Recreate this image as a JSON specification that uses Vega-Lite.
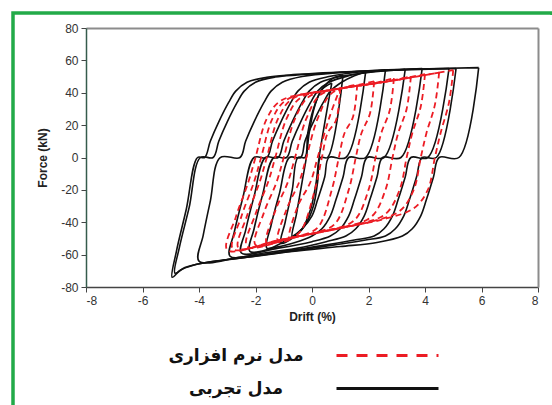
{
"$schema": "https://vega.github.io/schema/vega-lite/v6.json",
"width": 539, "height": 392,
"autosize": {"type": "none"},
"padding": {"left": 13, "top": 13, "right": 0, "bottom": 0},
"background": "white",
"config": {"view": {"stroke": "#22aa48", "strokeWidth": 3.5, "strokeDash": [541, 929, 392]}, "font": "Liberation Sans"},
"data": {"values": [
{"s":"e","c":1,"i":1,"d":0.7,"f":46},{"s":"e","c":1,"i":2,"d":0.25,"f":0},{"s":"e","c":1,"i":3,"d":0.15,"f":-15},{"s":"e","c":1,"i":4,"d":-0.05,"f":-32},{"s":"e","c":1,"i":5,"d":-0.35,"f":-44},{"s":"e","c":1,"i":6,"d":-0.7,"f":-49},{"s":"e","c":1,"i":7,"d":-0.55,"f":-35},{"s":"e","c":1,"i":8,"d":-0.35,"f":-15},{"s":"e","c":1,"i":9,"d":-0.2,"f":0},{"s":"e","c":1,"i":10,"d":-0.1,"f":15},{"s":"e","c":1,"i":11,"d":0.1,"f":32},{"s":"e","c":1,"i":12,"d":0.35,"f":42},{"s":"e","c":1,"i":13,"d":0.7,"f":46},
{"s":"e","c":2,"i":20,"d":1.1,"f":51},{"s":"e","c":2,"i":21,"d":0.55,"f":0},{"s":"e","c":2,"i":22,"d":0.3,"f":0},{"s":"e","c":2,"i":23,"d":0.2,"f":-15},{"s":"e","c":2,"i":24,"d":0.05,"f":-30},{"s":"e","c":2,"i":25,"d":-0.25,"f":-42},{"s":"e","c":2,"i":26,"d":-0.7,"f":-50},{"s":"e","c":2,"i":27,"d":-1.1,"f":-53},{"s":"e","c":2,"i":28,"d":-0.95,"f":-40},{"s":"e","c":2,"i":29,"d":-0.7,"f":-20},{"s":"e","c":2,"i":30,"d":-0.5,"f":0},{"s":"e","c":2,"i":31,"d":-0.25,"f":0},{"s":"e","c":2,"i":32,"d":-0.15,"f":15},{"s":"e","c":2,"i":33,"d":0.05,"f":30},{"s":"e","c":2,"i":34,"d":0.35,"f":42},{"s":"e","c":2,"i":35,"d":0.75,"f":49},{"s":"e","c":2,"i":36,"d":1.1,"f":51},
{"s":"e","c":3,"i":40,"d":1.9,"f":53},{"s":"e","c":3,"i":41,"d":1.2,"f":0},{"s":"e","c":3,"i":42,"d":0.6,"f":0},{"s":"e","c":3,"i":43,"d":0.45,"f":-12},{"s":"e","c":3,"i":44,"d":0.2,"f":-26},{"s":"e","c":3,"i":45,"d":0.0,"f":-36},{"s":"e","c":3,"i":46,"d":-0.35,"f":-44},{"s":"e","c":3,"i":47,"d":-0.8,"f":-50},{"s":"e","c":3,"i":48,"d":-1.6,"f":-56},{"s":"e","c":3,"i":49,"d":-1.45,"f":-42},{"s":"e","c":3,"i":50,"d":-1.15,"f":-22},{"s":"e","c":3,"i":51,"d":-0.8,"f":0},{"s":"e","c":3,"i":52,"d":-0.4,"f":0},{"s":"e","c":3,"i":53,"d":-0.25,"f":10},{"s":"e","c":3,"i":54,"d":0.05,"f":22},{"s":"e","c":3,"i":55,"d":0.4,"f":34},{"s":"e","c":3,"i":56,"d":0.65,"f":41},{"s":"e","c":3,"i":57,"d":1.05,"f":46.5},{"s":"e","c":3,"i":58,"d":1.5,"f":50.5},{"s":"e","c":3,"i":59,"d":1.9,"f":53},
{"s":"e","c":4,"i":60,"d":2.6,"f":54},{"s":"e","c":4,"i":61,"d":1.9,"f":0},{"s":"e","c":4,"i":62,"d":1.3,"f":0},{"s":"e","c":4,"i":63,"d":1.1,"f":-12},{"s":"e","c":4,"i":64,"d":0.85,"f":-26},{"s":"e","c":4,"i":65,"d":0.65,"f":-36},{"s":"e","c":4,"i":66,"d":0.35,"f":-44},{"s":"e","c":4,"i":67,"d":0.0,"f":-48.5},{"s":"e","c":4,"i":68,"d":-0.6,"f":-52.5},{"s":"e","c":4,"i":69,"d":-1.3,"f":-55.5},{"s":"e","c":4,"i":70,"d":-2.2,"f":-58},{"s":"e","c":4,"i":71,"d":-2.05,"f":-44},{"s":"e","c":4,"i":72,"d":-1.75,"f":-23},{"s":"e","c":4,"i":73,"d":-1.35,"f":0},{"s":"e","c":4,"i":74,"d":-0.9,"f":0},{"s":"e","c":4,"i":75,"d":-0.7,"f":10},{"s":"e","c":4,"i":76,"d":-0.4,"f":22},{"s":"e","c":4,"i":77,"d":-0.05,"f":34},{"s":"e","c":4,"i":78,"d":0.2,"f":41},{"s":"e","c":4,"i":79,"d":0.6,"f":46.5},{"s":"e","c":4,"i":80,"d":1.3,"f":50.5},{"s":"e","c":4,"i":81,"d":2.0,"f":52.8},{"s":"e","c":4,"i":82,"d":2.6,"f":54},
{"s":"e","c":5,"i":90,"d":3.3,"f":54.5},{"s":"e","c":5,"i":91,"d":2.55,"f":0},{"s":"e","c":5,"i":92,"d":1.95,"f":0},{"s":"e","c":5,"i":93,"d":1.75,"f":-12},{"s":"e","c":5,"i":94,"d":1.5,"f":-26},{"s":"e","c":5,"i":95,"d":1.3,"f":-36},{"s":"e","c":5,"i":96,"d":1.0,"f":-44},{"s":"e","c":5,"i":97,"d":0.65,"f":-48.5},{"s":"e","c":5,"i":98,"d":0,"f":-52},{"s":"e","c":5,"i":99,"d":-1.2,"f":-56},{"s":"e","c":5,"i":100,"d":-2.5,"f":-59},{"s":"e","c":5,"i":101,"d":-2.35,"f":-45},{"s":"e","c":5,"i":102,"d":-2.05,"f":-24},{"s":"e","c":5,"i":103,"d":-1.65,"f":0},{"s":"e","c":5,"i":104,"d":-1.2,"f":0},{"s":"e","c":5,"i":105,"d":-1.0,"f":10},{"s":"e","c":5,"i":106,"d":-0.7,"f":22},{"s":"e","c":5,"i":107,"d":-0.35,"f":34},{"s":"e","c":5,"i":108,"d":-0.1,"f":41},{"s":"e","c":5,"i":109,"d":0.3,"f":46.5},{"s":"e","c":5,"i":110,"d":1.0,"f":50},{"s":"e","c":5,"i":111,"d":2,"f":52.5},{"s":"e","c":5,"i":112,"d":3.3,"f":54.5},
{"s":"e","c":6,"i":120,"d":3.9,"f":55},{"s":"e","c":6,"i":121,"d":3.15,"f":0},{"s":"e","c":6,"i":122,"d":2.5,"f":0},{"s":"e","c":6,"i":123,"d":2.3,"f":-12},{"s":"e","c":6,"i":124,"d":2.05,"f":-26},{"s":"e","c":6,"i":125,"d":1.85,"f":-36},{"s":"e","c":6,"i":126,"d":1.55,"f":-44},{"s":"e","c":6,"i":127,"d":1.2,"f":-48.5},{"s":"e","c":6,"i":128,"d":0.5,"f":-52},{"s":"e","c":6,"i":129,"d":-0.5,"f":-56},{"s":"e","c":6,"i":130,"d":-1.7,"f":-59},{"s":"e","c":6,"i":131,"d":-2.9,"f":-61},{"s":"e","c":6,"i":132,"d":-2.75,"f":-46},{"s":"e","c":6,"i":133,"d":-2.45,"f":-25},{"s":"e","c":6,"i":134,"d":-2.05,"f":0},{"s":"e","c":6,"i":135,"d":-1.6,"f":0},{"s":"e","c":6,"i":136,"d":-1.4,"f":10},{"s":"e","c":6,"i":137,"d":-1.1,"f":22},{"s":"e","c":6,"i":138,"d":-0.75,"f":34},{"s":"e","c":6,"i":139,"d":-0.5,"f":41},{"s":"e","c":6,"i":140,"d":-0.1,"f":46.5},{"s":"e","c":6,"i":141,"d":0.6,"f":50},{"s":"e","c":6,"i":142,"d":1.5,"f":52.5},{"s":"e","c":6,"i":143,"d":2.7,"f":54},{"s":"e","c":6,"i":144,"d":3.9,"f":55},
{"s":"e","c":7,"i":150,"d":4.85,"f":55},{"s":"e","c":7,"i":151,"d":4.1,"f":0},{"s":"e","c":7,"i":152,"d":3.5,"f":0},{"s":"e","c":7,"i":153,"d":3.3,"f":-12},{"s":"e","c":7,"i":154,"d":3.05,"f":-26},{"s":"e","c":7,"i":155,"d":2.85,"f":-36},{"s":"e","c":7,"i":156,"d":2.55,"f":-44},{"s":"e","c":7,"i":157,"d":2.2,"f":-48.5},{"s":"e","c":7,"i":158,"d":1.5,"f":-51},{"s":"e","c":7,"i":159,"d":0.5,"f":-54},{"s":"e","c":7,"i":160,"d":-1,"f":-58},{"s":"e","c":7,"i":161,"d":-2.5,"f":-61.5},{"s":"e","c":7,"i":162,"d":-4.0,"f":-64},{"s":"e","c":7,"i":163,"d":-3.85,"f":-48},{"s":"e","c":7,"i":164,"d":-3.6,"f":-27},{"s":"e","c":7,"i":165,"d":-3.25,"f":0},{"s":"e","c":7,"i":166,"d":-2.55,"f":0},{"s":"e","c":7,"i":167,"d":-2.35,"f":10},{"s":"e","c":7,"i":168,"d":-2.05,"f":22},{"s":"e","c":7,"i":169,"d":-1.7,"f":34},{"s":"e","c":7,"i":170,"d":-1.45,"f":41},{"s":"e","c":7,"i":171,"d":-1.05,"f":46.5},{"s":"e","c":7,"i":172,"d":-0.35,"f":50},{"s":"e","c":7,"i":173,"d":1.0,"f":52.5},{"s":"e","c":7,"i":174,"d":3.0,"f":54.3},{"s":"e","c":7,"i":175,"d":4.85,"f":55},
{"s":"e","c":8,"i":180,"d":5.1,"f":55},{"s":"e","c":8,"i":181,"d":4.4,"f":0},{"s":"e","c":8,"i":182,"d":3.9,"f":0},{"s":"e","c":8,"i":183,"d":3.7,"f":-12},{"s":"e","c":8,"i":184,"d":3.45,"f":-26},{"s":"e","c":8,"i":185,"d":3.25,"f":-36},{"s":"e","c":8,"i":186,"d":2.95,"f":-44},{"s":"e","c":8,"i":187,"d":2.6,"f":-48.5},{"s":"e","c":8,"i":188,"d":1.9,"f":-51},{"s":"e","c":8,"i":189,"d":0.8,"f":-54},{"s":"e","c":8,"i":190,"d":-0.8,"f":-58},{"s":"e","c":8,"i":191,"d":-2.5,"f":-62},{"s":"e","c":8,"i":192,"d":-3.8,"f":-65},{"s":"e","c":8,"i":193,"d":-4.5,"f":-68},{"s":"e","c":8,"i":194,"d":-4.85,"f":-71.5},{"s":"e","c":8,"i":195,"d":-4.7,"f":-56},{"s":"e","c":8,"i":196,"d":-4.35,"f":-31},{"s":"e","c":8,"i":197,"d":-3.95,"f":0},{"s":"e","c":8,"i":198,"d":-3.5,"f":0},{"s":"e","c":8,"i":199,"d":-3.3,"f":10},{"s":"e","c":8,"i":200,"d":-3.0,"f":22},{"s":"e","c":8,"i":201,"d":-2.65,"f":34},{"s":"e","c":8,"i":202,"d":-2.4,"f":41},{"s":"e","c":8,"i":203,"d":-2.0,"f":46.5},{"s":"e","c":8,"i":204,"d":-1.3,"f":49.7},{"s":"e","c":8,"i":205,"d":-0.5,"f":51},{"s":"e","c":8,"i":206,"d":1.5,"f":53},{"s":"e","c":8,"i":207,"d":3.5,"f":54.3},{"s":"e","c":8,"i":208,"d":5.1,"f":55},
{"s":"e","c":9,"i":210,"d":5.9,"f":55.5},{"s":"e","c":9,"i":211,"d":5.2,"f":0},{"s":"e","c":9,"i":212,"d":4.5,"f":0},{"s":"e","c":9,"i":213,"d":4.3,"f":-12},{"s":"e","c":9,"i":214,"d":4.05,"f":-26},{"s":"e","c":9,"i":215,"d":3.85,"f":-36},{"s":"e","c":9,"i":216,"d":3.55,"f":-44},{"s":"e","c":9,"i":217,"d":3.2,"f":-48.5},{"s":"e","c":9,"i":218,"d":2.3,"f":-52.5},{"s":"e","c":9,"i":219,"d":1,"f":-55},{"s":"e","c":9,"i":220,"d":-0.7,"f":-58},{"s":"e","c":9,"i":221,"d":-2.2,"f":-61.5},{"s":"e","c":9,"i":222,"d":-3.4,"f":-64},{"s":"e","c":9,"i":223,"d":-4.2,"f":-66.5},{"s":"e","c":9,"i":224,"d":-4.65,"f":-69.5},{"s":"e","c":9,"i":225,"d":-4.95,"f":-74},{"s":"e","c":9,"i":226,"d":-4.8,"f":-58},{"s":"e","c":9,"i":227,"d":-4.45,"f":-32},{"s":"e","c":9,"i":228,"d":-4.05,"f":0},{"s":"e","c":9,"i":229,"d":-3.8,"f":0},{"s":"e","c":9,"i":230,"d":-3.6,"f":10},{"s":"e","c":9,"i":231,"d":-3.3,"f":22},{"s":"e","c":9,"i":232,"d":-2.95,"f":34},{"s":"e","c":9,"i":233,"d":-2.7,"f":41},{"s":"e","c":9,"i":234,"d":-2.3,"f":46.5},{"s":"e","c":9,"i":235,"d":-1.6,"f":49.5},{"s":"e","c":9,"i":236,"d":-0.8,"f":51},{"s":"e","c":9,"i":237,"d":1,"f":52.8},{"s":"e","c":9,"i":238,"d":3.5,"f":54.5},{"s":"e","c":9,"i":239,"d":5.9,"f":55.5},
{"s":"m","c":11,"i":300,"d":1.0,"f":43},{"s":"m","c":11,"i":301,"d":0.85,"f":23},{"s":"m","c":11,"i":302,"d":0.55,"f":15},{"s":"m","c":11,"i":303,"d":0.35,"f":0},{"s":"m","c":11,"i":304,"d":0.1,"f":-20},{"s":"m","c":11,"i":305,"d":-0.4,"f":-45.4},{"s":"m","c":11,"i":306,"d":-0.8,"f":-50},{"s":"m","c":11,"i":307,"d":-0.5,"f":-30},{"s":"m","c":11,"i":308,"d":-0.05,"f":-15},{"s":"m","c":11,"i":309,"d":0.2,"f":0},{"s":"m","c":11,"i":310,"d":0.6,"f":24},{"s":"m","c":11,"i":311,"d":1.0,"f":43},
{"s":"m","c":12,"i":320,"d":1.6,"f":45},{"s":"m","c":12,"i":321,"d":1.45,"f":25},{"s":"m","c":12,"i":322,"d":1.15,"f":15},{"s":"m","c":12,"i":323,"d":0.95,"f":0},{"s":"m","c":12,"i":324,"d":0.7,"f":-20},{"s":"m","c":12,"i":325,"d":0.2,"f":-43.3},{"s":"m","c":12,"i":326,"d":-0.5,"f":-48.75},{"s":"m","c":12,"i":327,"d":-1.2,"f":-52},{"s":"m","c":12,"i":328,"d":-0.9,"f":-32},{"s":"m","c":12,"i":329,"d":-0.45,"f":-15},{"s":"m","c":12,"i":330,"d":-0.2,"f":0},{"s":"m","c":12,"i":331,"d":0.2,"f":24},{"s":"m","c":12,"i":332,"d":0.7,"f":39.8},{"s":"m","c":12,"i":333,"d":1.6,"f":45},
{"s":"m","c":13,"i":340,"d":2.2,"f":47},{"s":"m","c":13,"i":341,"d":2.05,"f":27},{"s":"m","c":13,"i":342,"d":1.75,"f":15},{"s":"m","c":13,"i":343,"d":1.55,"f":0},{"s":"m","c":13,"i":344,"d":1.3,"f":-20},{"s":"m","c":13,"i":345,"d":0.8,"f":-41.2},{"s":"m","c":13,"i":346,"d":0,"f":-47},{"s":"m","c":13,"i":347,"d":-0.8,"f":-49.8},{"s":"m","c":13,"i":348,"d":-1.6,"f":-53},{"s":"m","c":13,"i":349,"d":-1.3,"f":-33},{"s":"m","c":13,"i":350,"d":-0.85,"f":-15},{"s":"m","c":13,"i":351,"d":-0.6,"f":0},{"s":"m","c":13,"i":352,"d":-0.2,"f":24},{"s":"m","c":13,"i":353,"d":0.3,"f":38.8},{"s":"m","c":13,"i":354,"d":1.2,"f":43.1},{"s":"m","c":13,"i":355,"d":2.2,"f":47},
{"s":"m","c":14,"i":360,"d":2.9,"f":49},{"s":"m","c":14,"i":361,"d":2.75,"f":29},{"s":"m","c":14,"i":362,"d":2.45,"f":15},{"s":"m","c":14,"i":363,"d":2.25,"f":0},{"s":"m","c":14,"i":364,"d":2.0,"f":-20},{"s":"m","c":14,"i":365,"d":1.5,"f":-38.75},{"s":"m","c":14,"i":366,"d":0.5,"f":-45.25},{"s":"m","c":14,"i":367,"d":-0.7,"f":-49.5},{"s":"m","c":14,"i":368,"d":-2.0,"f":-54},{"s":"m","c":14,"i":369,"d":-1.7,"f":-34},{"s":"m","c":14,"i":370,"d":-1.25,"f":-15},{"s":"m","c":14,"i":371,"d":-1.0,"f":0},{"s":"m","c":14,"i":372,"d":-0.6,"f":24},{"s":"m","c":14,"i":373,"d":-0.1,"f":37.7},{"s":"m","c":14,"i":374,"d":1.0,"f":42.6},{"s":"m","c":14,"i":375,"d":2.0,"f":45.2},{"s":"m","c":14,"i":376,"d":2.9,"f":49},
{"s":"m","c":15,"i":380,"d":3.5,"f":50},{"s":"m","c":15,"i":381,"d":3.35,"f":30},{"s":"m","c":15,"i":382,"d":3.05,"f":15},{"s":"m","c":15,"i":383,"d":2.85,"f":0},{"s":"m","c":15,"i":384,"d":2.6,"f":-20},{"s":"m","c":15,"i":385,"d":2.1,"f":-36.65},{"s":"m","c":15,"i":386,"d":1.0,"f":-43.5},{"s":"m","c":15,"i":387,"d":-0.5,"f":-48.75},{"s":"m","c":15,"i":388,"d":-2.3,"f":-55},{"s":"m","c":15,"i":389,"d":-2.0,"f":-35},{"s":"m","c":15,"i":390,"d":-1.55,"f":-15},{"s":"m","c":15,"i":391,"d":-1.3,"f":0},{"s":"m","c":15,"i":392,"d":-0.9,"f":24},{"s":"m","c":15,"i":393,"d":-0.4,"f":36.96},{"s":"m","c":15,"i":394,"d":1.0,"f":42.6},{"s":"m","c":15,"i":395,"d":2.5,"f":46.5},{"s":"m","c":15,"i":396,"d":3.5,"f":50},
{"s":"m","c":16,"i":400,"d":4.0,"f":51.5},{"s":"m","c":16,"i":401,"d":3.85,"f":31.5},{"s":"m","c":16,"i":402,"d":3.55,"f":15},{"s":"m","c":16,"i":403,"d":3.35,"f":0},{"s":"m","c":16,"i":404,"d":3.1,"f":-20},{"s":"m","c":16,"i":405,"d":2.6,"f":-34.9},{"s":"m","c":16,"i":406,"d":1.5,"f":-41.75},{"s":"m","c":16,"i":407,"d":0,"f":-47},{"s":"m","c":16,"i":408,"d":-1.3,"f":-51.5},{"s":"m","c":16,"i":409,"d":-2.6,"f":-56},{"s":"m","c":16,"i":410,"d":-2.3,"f":-36},{"s":"m","c":16,"i":411,"d":-1.85,"f":-15},{"s":"m","c":16,"i":412,"d":-1.6,"f":0},{"s":"m","c":16,"i":413,"d":-1.2,"f":24},{"s":"m","c":16,"i":414,"d":-0.7,"f":36.2},{"s":"m","c":16,"i":415,"d":0.8,"f":42.1},{"s":"m","c":16,"i":416,"d":2.5,"f":46.5},{"s":"m","c":16,"i":417,"d":4.0,"f":51.5},
{"s":"m","c":17,"i":420,"d":4.5,"f":52.5},{"s":"m","c":17,"i":421,"d":4.35,"f":32.5},{"s":"m","c":17,"i":422,"d":4.05,"f":15},{"s":"m","c":17,"i":423,"d":3.85,"f":0},{"s":"m","c":17,"i":424,"d":3.6,"f":-20},{"s":"m","c":17,"i":425,"d":3.1,"f":-33.15},{"s":"m","c":17,"i":426,"d":2.0,"f":-40},{"s":"m","c":17,"i":427,"d":0.5,"f":-45.25},{"s":"m","c":17,"i":428,"d":-1.2,"f":-51.2},{"s":"m","c":17,"i":429,"d":-2.8,"f":-56.5},{"s":"m","c":17,"i":430,"d":-2.5,"f":-36.5},{"s":"m","c":17,"i":431,"d":-2.05,"f":-15},{"s":"m","c":17,"i":432,"d":-1.8,"f":0},{"s":"m","c":17,"i":433,"d":-1.4,"f":24},{"s":"m","c":17,"i":434,"d":-0.9,"f":35.66},{"s":"m","c":17,"i":435,"d":0.8,"f":42.1},{"s":"m","c":17,"i":436,"d":2.8,"f":47.3},{"s":"m","c":17,"i":437,"d":4.5,"f":52.5},
{"s":"m","c":18,"i":440,"d":5.0,"f":54},{"s":"m","c":18,"i":441,"d":4.85,"f":34},{"s":"m","c":18,"i":442,"d":4.55,"f":15},{"s":"m","c":18,"i":443,"d":4.35,"f":0},{"s":"m","c":18,"i":444,"d":4.1,"f":-20},{"s":"m","c":18,"i":445,"d":3.6,"f":-31.4},{"s":"m","c":18,"i":446,"d":2.5,"f":-38.25},{"s":"m","c":18,"i":447,"d":1.0,"f":-43.5},{"s":"m","c":18,"i":448,"d":-1.0,"f":-50.5},{"s":"m","c":18,"i":449,"d":-3.0,"f":-57},{"s":"m","c":18,"i":450,"d":-2.7,"f":-37},{"s":"m","c":18,"i":451,"d":-2.25,"f":-15},{"s":"m","c":18,"i":452,"d":-2.0,"f":0},{"s":"m","c":18,"i":453,"d":-1.6,"f":24},{"s":"m","c":18,"i":454,"d":-1.1,"f":35.14},{"s":"m","c":18,"i":455,"d":0.5,"f":41.3},{"s":"m","c":18,"i":456,"d":2.5,"f":46.5},{"s":"m","c":18,"i":457,"d":5.0,"f":54}
]},
"layer": [
{
"transform": [{"filter": "datum.s == 'e'"}],
"mark": {"type": "line", "interpolate": "catmull-rom", "strokeWidth": 1.6},
"encoding": {
"x": {"field": "d", "type": "quantitative", "scale": {"domain": [-8, 8], "range": [73, 525], "nice": false, "zero": false},
 "axis": {"orient": "bottom", "offset": -118, "values": [-8,-6,-4,-2,0,2,4,6,8], "labelExpr": "replace(datum.label, '−', '-')", "grid": false, "tickSize": 5, "tickColor": "#444", "domainColor": "#444", "domainWidth": 1.5, "labelFont": "Liberation Sans", "labelFontSize": 12, "labelColor": "#333", "labelPadding": 3, "title": "Drift (%)", "titleFont": "Liberation Sans", "titleFontSize": 12, "titleFontWeight": "bold", "titleColor": "#222", "titlePadding": 5}},
"y": {"field": "f", "type": "quantitative", "scale": {"domain": [-80, 80], "range": [274, 15], "nice": false, "zero": false},
 "axis": {"orient": "left", "offset": -73, "values": [-80,-60,-40,-20,0,20,40,60,80], "labelExpr": "replace(datum.label, '−', '-')", "grid": false, "tickSize": 5, "tickColor": "#444", "domainColor": "#355c4c", "domainWidth": 1.5, "labelFont": "Liberation Sans", "labelFontSize": 12, "labelColor": "#333", "labelPadding": 3, "title": "Force (kN)", "titleFont": "Liberation Sans", "titleFontSize": 12, "titleFontWeight": "bold", "titleColor": "#222", "titlePadding": 11}},
"color": {"field": "s", "type": "nominal", "scale": {"domain": ["m", "e"], "range": ["#ec1c24", "#111111"]},
 "legend": {"title": null, "orient": "none", "legendX": 366, "legendY": 334, "symbolType": "M-8.5,0H8.5", "symbolSize": 144, "symbolStrokeWidth": 3, "labelExpr": "datum.value == 'm' ? 'مدل نرم افزاری' : 'مدل تجربی'", "labelFont": "DejaVu Sans", "labelFontSize": 17, "labelFontWeight": "bold", "labelColor": "#111", "labelAlign": "center", "labelOffset": -160, "labelLimit": 300, "rowPadding": 15, "encode": {"symbols": {"update": {"strokeDash": {"signal": "datum.value == 'm' ? [11, 9] : [1, 0]"}}}}}},
"detail": {"field": "c", "type": "nominal"},
"order": {"field": "i", "type": "quantitative"}
}
},
{
"transform": [{"filter": "datum.s == 'm'"}],
"mark": {"type": "line", "interpolate": "catmull-rom", "strokeWidth": 1.8, "stroke": "#ec1c24", "strokeDash": [6, 4]},
"encoding": {
"x": {"field": "d", "type": "quantitative", "scale": {"domain": [-8, 8], "range": [73, 525], "nice": false, "zero": false},
 "axis": {"orient": "top", "offset": -15, "labels": false, "ticks": false, "grid": false, "title": null, "domainColor": "#8c8c8c", "domainWidth": 2}},
"y": {"field": "f", "type": "quantitative", "scale": {"domain": [-80, 80], "range": [274, 15], "nice": false, "zero": false},
 "axis": {"orient": "right", "offset": -14, "labels": false, "ticks": false, "grid": false, "title": null, "domainColor": "#8c8c8c", "domainWidth": 2}},
"detail": {"field": "c", "type": "nominal"},
"order": {"field": "i", "type": "quantitative"}
}
}
],
"resolve": {"axis": {"x": "independent", "y": "independent"}}
}
